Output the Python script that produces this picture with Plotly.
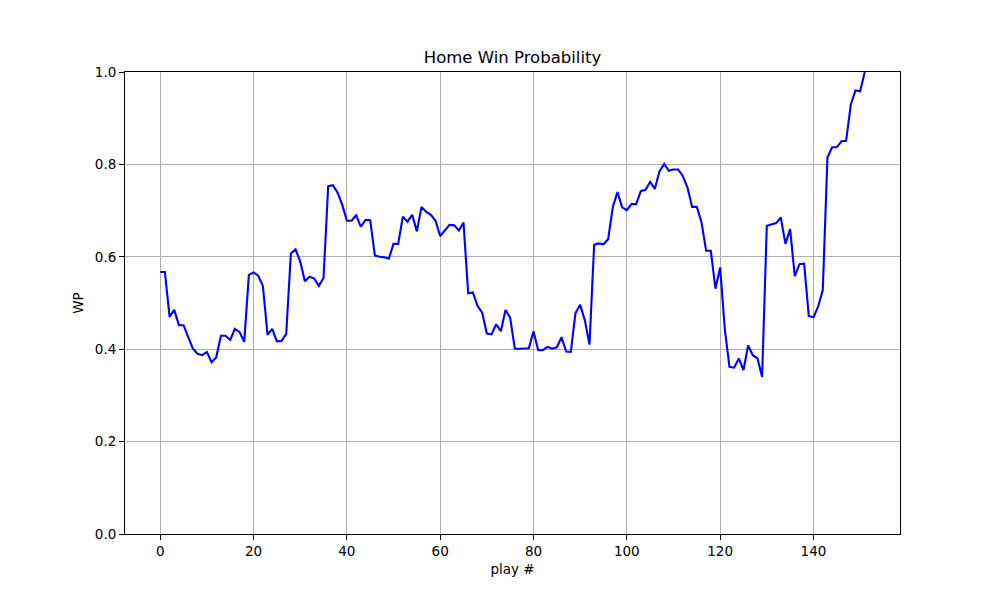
import plotly.graph_objects as go

# Home win probability after each play
wp = [
    0.567, 0.567, 0.470, 0.485, 0.452, 0.452, 0.426, 0.401, 0.390, 0.387,
    0.394, 0.372, 0.382, 0.429, 0.429, 0.420, 0.444, 0.437, 0.416, 0.561,
    0.566, 0.559, 0.537, 0.431, 0.444, 0.417, 0.418, 0.433, 0.607, 0.616,
    0.590, 0.547, 0.557, 0.553, 0.537, 0.554, 0.753, 0.755, 0.739, 0.713,
    0.678, 0.678, 0.690, 0.665, 0.680, 0.679, 0.603, 0.600, 0.599, 0.596,
    0.628, 0.628, 0.687, 0.676, 0.691, 0.655, 0.708, 0.697, 0.691, 0.678,
    0.645, 0.657, 0.669, 0.668, 0.657, 0.674, 0.521, 0.523, 0.494, 0.479,
    0.434, 0.432, 0.454, 0.439, 0.485, 0.468, 0.401, 0.401, 0.402, 0.402,
    0.439, 0.398, 0.398, 0.405, 0.401, 0.404, 0.426, 0.395, 0.394, 0.478,
    0.496, 0.463, 0.410, 0.626, 0.629, 0.627, 0.638, 0.708, 0.740, 0.707,
    0.701, 0.714, 0.714, 0.742, 0.745, 0.762, 0.747, 0.785, 0.801, 0.786,
    0.789, 0.789, 0.775, 0.750, 0.708, 0.708, 0.675, 0.613, 0.613, 0.531,
    0.577, 0.444, 0.362, 0.360, 0.380, 0.355, 0.408, 0.387, 0.380, 0.340,
    0.667, 0.670, 0.673, 0.685, 0.628, 0.660, 0.558, 0.584, 0.585, 0.472,
    0.469, 0.492, 0.528, 0.815, 0.837, 0.837, 0.850, 0.851, 0.929, 0.960,
    0.958, 1.000,
]
plays = list(range(len(wp)))

x_ticks = [0, 20, 40, 60, 80, 100, 120, 140]
y_ticks = [0.0, 0.2, 0.4, 0.6, 0.8, 1.0]

fig = go.Figure()
fig.add_trace(go.Scatter(x=plays, y=wp, mode="lines",
                         line=dict(color="#0000ff", width=2.1), showlegend=False))

pad = 0.05 * (plays[-1] - plays[0])
axis_style = dict(showline=True, mirror=True, linecolor="black", linewidth=1,
                  ticks="outside", ticklen=5, tickcolor="black", tickwidth=1,
                  showgrid=True, gridcolor="#b0b0b0", gridwidth=1, zeroline=False,
                  automargin=False, tickfont=dict(size=13.5, color="black"))

fig.update_xaxes(range=[plays[0] - pad, plays[-1] + pad], tickvals=x_ticks,
                 title=dict(text="play #", font=dict(size=13.5, color="black"), standoff=6),
                 **axis_style)
fig.update_yaxes(range=[0, 1], tickvals=y_ticks, tickformat=".1f",
                 title=dict(text="WP", font=dict(size=13.5, color="black"), standoff=8),
                 **axis_style)

# page body adds an 8px offset, so the figure is a little smaller than the window
fig.update_layout(
    width=992, height=592,
    font=dict(family="DejaVu Sans", color="black"),
    paper_bgcolor="white", plot_bgcolor="white",
    margin=dict(l=117, r=100, t=64, b=66),
    title=dict(text="Home Win Probability", x=0.5, xref="paper", xanchor="center",
               y=1, yref="paper", yanchor="bottom", pad=dict(b=9),
               font=dict(size=16.5, color="black")),
)

fig.write_html("out.html")
